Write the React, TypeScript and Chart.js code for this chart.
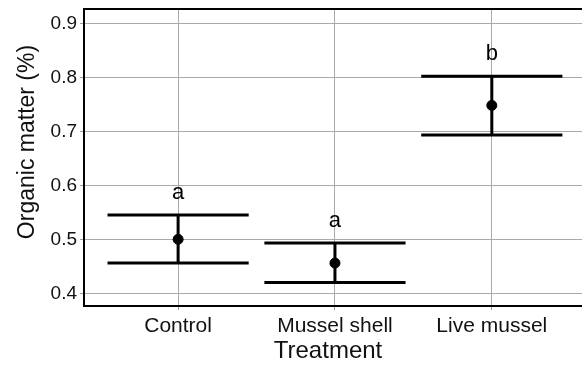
import React, { useEffect, useRef } from "react";
import { Chart, registerables } from "chart.js";

Chart.register(...registerables);

const categories = ["Control", "Mussel shell", "Live mussel"];
const means = [0.5, 0.456, 0.748];
const upper = [0.545, 0.493, 0.802];
const lower = [0.456, 0.42, 0.693];
const letters = ["a", "a", "b"];
const yTicks = [0.4, 0.5, 0.6, 0.7, 0.8, 0.9];

const FONT = "'Liberation Sans', Arial, Helvetica, sans-serif";

const errorBarPlugin = {
  id: "errorBars",
  beforeDatasetsDraw(chart: any) {
    const { ctx, scales } = chart;
    const xs = scales.x;
    const ys = scales.y;
    ctx.save();
    ctx.strokeStyle = "#000";
    ctx.lineWidth = 3;
    ctx.lineCap = "butt";
    categories.forEach((_, i) => {
      const xc = xs.getPixelForValue(i + 1);
      const xl = xs.getPixelForValue(i + 1 - 0.45);
      const xr = xs.getPixelForValue(i + 1 + 0.45);
      const yu = ys.getPixelForValue(upper[i]);
      const yl = ys.getPixelForValue(lower[i]);
      ctx.beginPath();
      ctx.moveTo(xl, yu);
      ctx.lineTo(xr, yu);
      ctx.moveTo(xl, yl);
      ctx.lineTo(xr, yl);
      ctx.moveTo(xc, yu);
      ctx.lineTo(xc, yl);
      ctx.stroke();
    });
    ctx.restore();
  },
  afterDraw(chart: any) {
    const { ctx, scales, chartArea } = chart;
    const xs = scales.x;
    const ys = scales.y;
    ctx.save();
    // top border
    ctx.strokeStyle = "#000";
    ctx.lineWidth = 2;
    ctx.beginPath();
    ctx.moveTo(chartArea.left - 1, chartArea.top);
    ctx.lineTo(chartArea.right, chartArea.top);
    ctx.stroke();
    // significance letters
    ctx.fillStyle = "#000";
    ctx.font = `22px ${FONT}`;
    ctx.textAlign = "center";
    ctx.textBaseline = "alphabetic";
    letters.forEach((l, i) => {
      const xc = xs.getPixelForValue(i + 1);
      const yu = ys.getPixelForValue(upper[i]);
      ctx.fillText(l, xc, yu - 16);
    });
    // axis titles
    ctx.fillStyle = "#111";
    ctx.font = `24px ${FONT}`;
    ctx.textBaseline = "middle";
    ctx.fillText("Treatment", 328, 351);
    ctx.translate(28, 142);
    ctx.rotate(-Math.PI / 2);
    ctx.font = `23px ${FONT}`;
    ctx.fillText("Organic matter (%)", 0, 0);
    ctx.restore();
  },
};

const zeroPad = (s: any) => {
  s.paddingTop = 0;
  s.paddingBottom = 0;
  s.paddingLeft = 0;
  s.paddingRight = 0;
};

export default function App() {
  const ref = useRef<HTMLCanvasElement>(null);
  useEffect(() => {
    document.body.style.margin = "0";
    if (!ref.current) return;
    const chart = new Chart(ref.current, {
      type: "scatter",
      data: {
        datasets: [
          {
            data: means.map((m, i) => ({ x: i + 1, y: m })),
            backgroundColor: "#000",
            borderColor: "#000",
            pointRadius: 5,
            pointHoverRadius: 5,
            clip: false,
          },
        ],
      },
      options: {
        animation: false,
        responsive: true,
        maintainAspectRatio: false,
        layout: { autoPadding: false, padding: { top: 9, left: 0, right: 0, bottom: 0 } },
        plugins: {
          legend: { display: false },
          tooltip: { enabled: false },
        },
        scales: {
          x: {
            type: "linear",
            min: 0.4,
            max: 3.575,
            afterBuildTicks: (s: any) => {
              s.ticks = categories.map((_, i) => ({ value: i + 1 }));
            },
            afterFit: (s: any) => {
              s.height = 59;
              zeroPad(s);
            },
            ticks: {
              callback: (v: any) => categories[Math.round(Number(v)) - 1] ?? "",
              color: "#111",
              font: { family: FONT, size: 21 },
              padding: 4,
              maxRotation: 0,
              autoSkip: false,
            },
            grid: { color: "#aaa", lineWidth: 1, tickLength: 4, tickColor: "#999" },
            border: { display: true, color: "#000", width: 2 },
          },
          y: {
            type: "linear",
            min: 0.3765,
            max: 0.9265,
            afterBuildTicks: (s: any) => {
              s.ticks = yTicks.map((v) => ({ value: v }));
            },
            afterFit: (s: any) => {
              s.width = 84;
              zeroPad(s);
            },
            ticks: {
              callback: (v: any) => Number(v).toFixed(1),
              color: "#111",
              font: { family: FONT, size: 19 },
              padding: 3,
            },
            grid: { color: "#aaa", lineWidth: 1, tickLength: 4, tickColor: "#999" },
            border: { display: true, color: "#000", width: 2 },
          },
        },
      },
      plugins: [errorBarPlugin],
    });
    return () => chart.destroy();
  }, []);
  return (
    <div style={{ width: 582, height: 365, position: "relative" }}>
      <canvas ref={ref} />
    </div>
  );
}
